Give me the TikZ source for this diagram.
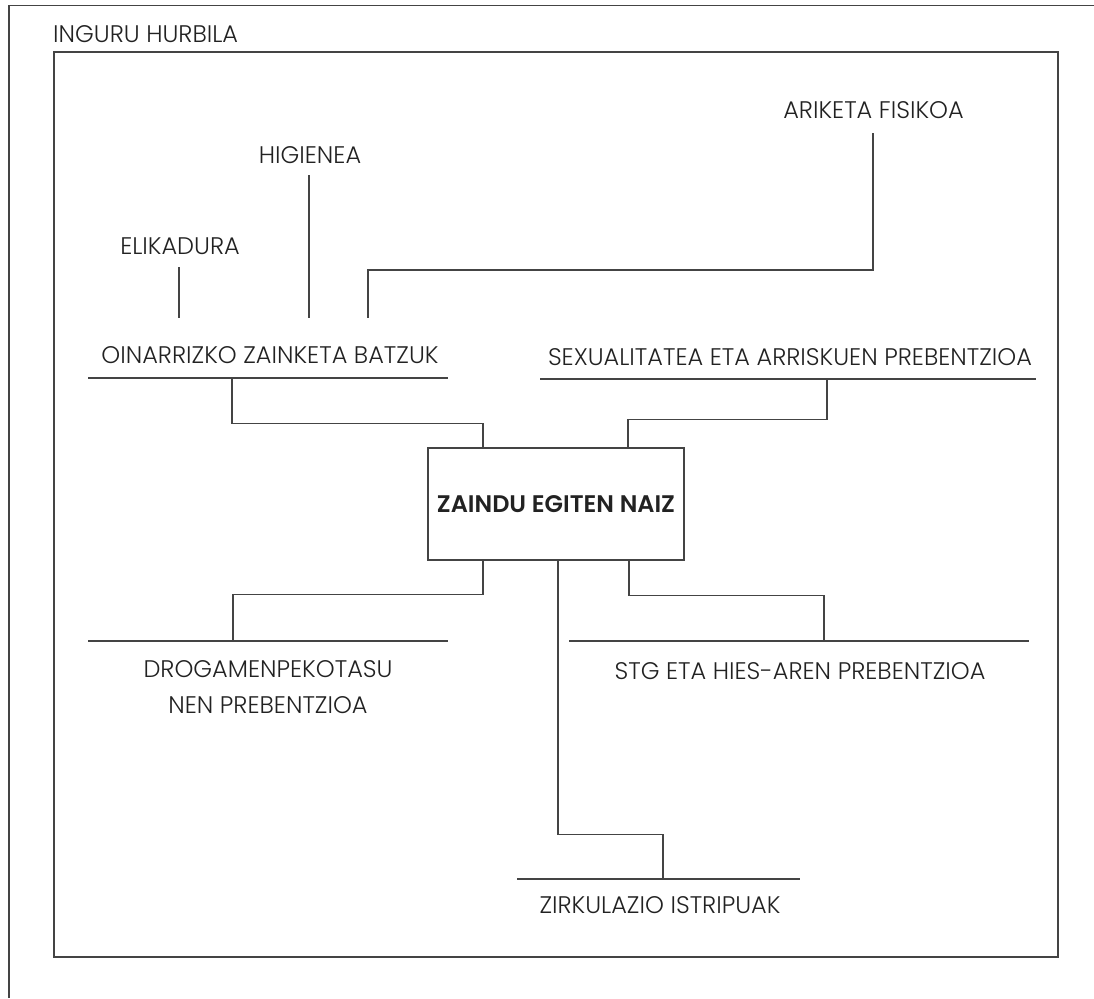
\documentclass[tikz,border=0pt]{standalone}
\usepackage{fontspec}
\setmainfont{Poppins}[UprightFont=* Light,BoldFont=* SemiBold]
\definecolor{ln}{HTML}{444444}
\definecolor{tx}{HTML}{222222}
\begin{document}
\begin{tikzpicture}[x=1pt,y=-1pt,
  rule/.style={draw=ln,line width=1.3pt},
  lbl/.style={inner sep=0pt,anchor=base,text=tx,font=\fontsize{24}{36}\selectfont},
  mainbox/.style={draw=ln,line width=1.3pt,minimum width=256pt,minimum height=112pt,inner sep=0pt,text=tx,font=\bfseries\fontsize{24}{28}\selectfont}]
\useasboundingbox (0,0) rectangle (1094,998);
% outer frame (open right and bottom)
\draw[rule,line width=1.6pt] (9,998) -- (9,5.5) -- (1094,5.5);
\node[lbl,anchor=base west] (ingurutit) at (53,42) {INGURU HURBILA};
% inner frame
\draw[rule] (54,52) rectangle (1058,957);
% centre
\node[mainbox] (main) at (556,504) {ZAINDU EGITEN NAIZ};
% labels
\node[lbl] (ariketa) at (873.5,118) {ARIKETA FISIKOA};
\node[lbl] (higienea) at (310,163) {HIGIENEA};
\node[lbl] (elikadura) at (180,254) {ELIKADURA};
\node[lbl] (oinarri) at (270,363) {OINARRIZKO ZAINKETA BATZUK};
\node[lbl] (sexu) at (790,365) {SEXUALITATEA ETA ARRISKUEN PREBENTZIOA};
\node[lbl,align=center] (droga) at (268,713) {DROGAMENPEKOTASU\\NEN PREBENTZIOA};
\node[lbl] (stg) at (800,679) {STG ETA HIES-AREN PREBENTZIOA};
\node[lbl] (zirku) at (660,913) {ZIRKULAZIO ISTRIPUAK};
% underlines
\coordinate (oinL) at (88,378);   \coordinate (oinR) at (448,378);
\coordinate (sexL) at (540,379);  \coordinate (sexR) at (1036,379);
\coordinate (droL) at (88,641);   \coordinate (droR) at (448,641);
\coordinate (stgL) at (569,641);  \coordinate (stgR) at (1029,641);
\coordinate (zirL) at (517,879);  \coordinate (zirR) at (800,879);
\draw[rule] (oinL) -- (oinR);
\draw[rule] (sexL) -- (sexR);
\draw[rule] (droL) -- (droR);
\draw[rule] (stgL) -- (stgR);
\draw[rule] (zirL) -- (zirR);
% connection points on underlines
\coordinate (oinA) at (232,378);
\coordinate (sexA) at (827,379);
\coordinate (droA) at (233,641);
\coordinate (stgA) at (824,641);
\coordinate (zirA) at (663,879);
% top items into OINARRIZKO
\coordinate (eliB) at (179,267);  \coordinate (eliE) at (179,318);
\coordinate (higB) at (309,175);  \coordinate (higE) at (309,318);
\coordinate (ariB) at (873,133);  \coordinate (ariE) at (368,318);
\draw[rule] (eliB) -- (eliE);
\draw[rule] (higB) -- (higE);
\draw[rule] (ariB) |- (ariE |- 0,270) -- (ariE);
% connectors from centre box
\draw[rule] ([xshift=-73pt]main.north) -- ++(0,-24) -| (oinA);
\draw[rule] ([xshift=72pt]main.north) -- ++(0,-28) -| (sexA);
\draw[rule] ([xshift=-73pt]main.south) -- ++(0,34) -| (droA);
\draw[rule] ([xshift=73pt]main.south) -- ++(0,35) -| (stgA);
\draw[rule] ([xshift=2pt]main.south) -- ++(0,274) -| (zirA);
\end{tikzpicture}
\end{document}
